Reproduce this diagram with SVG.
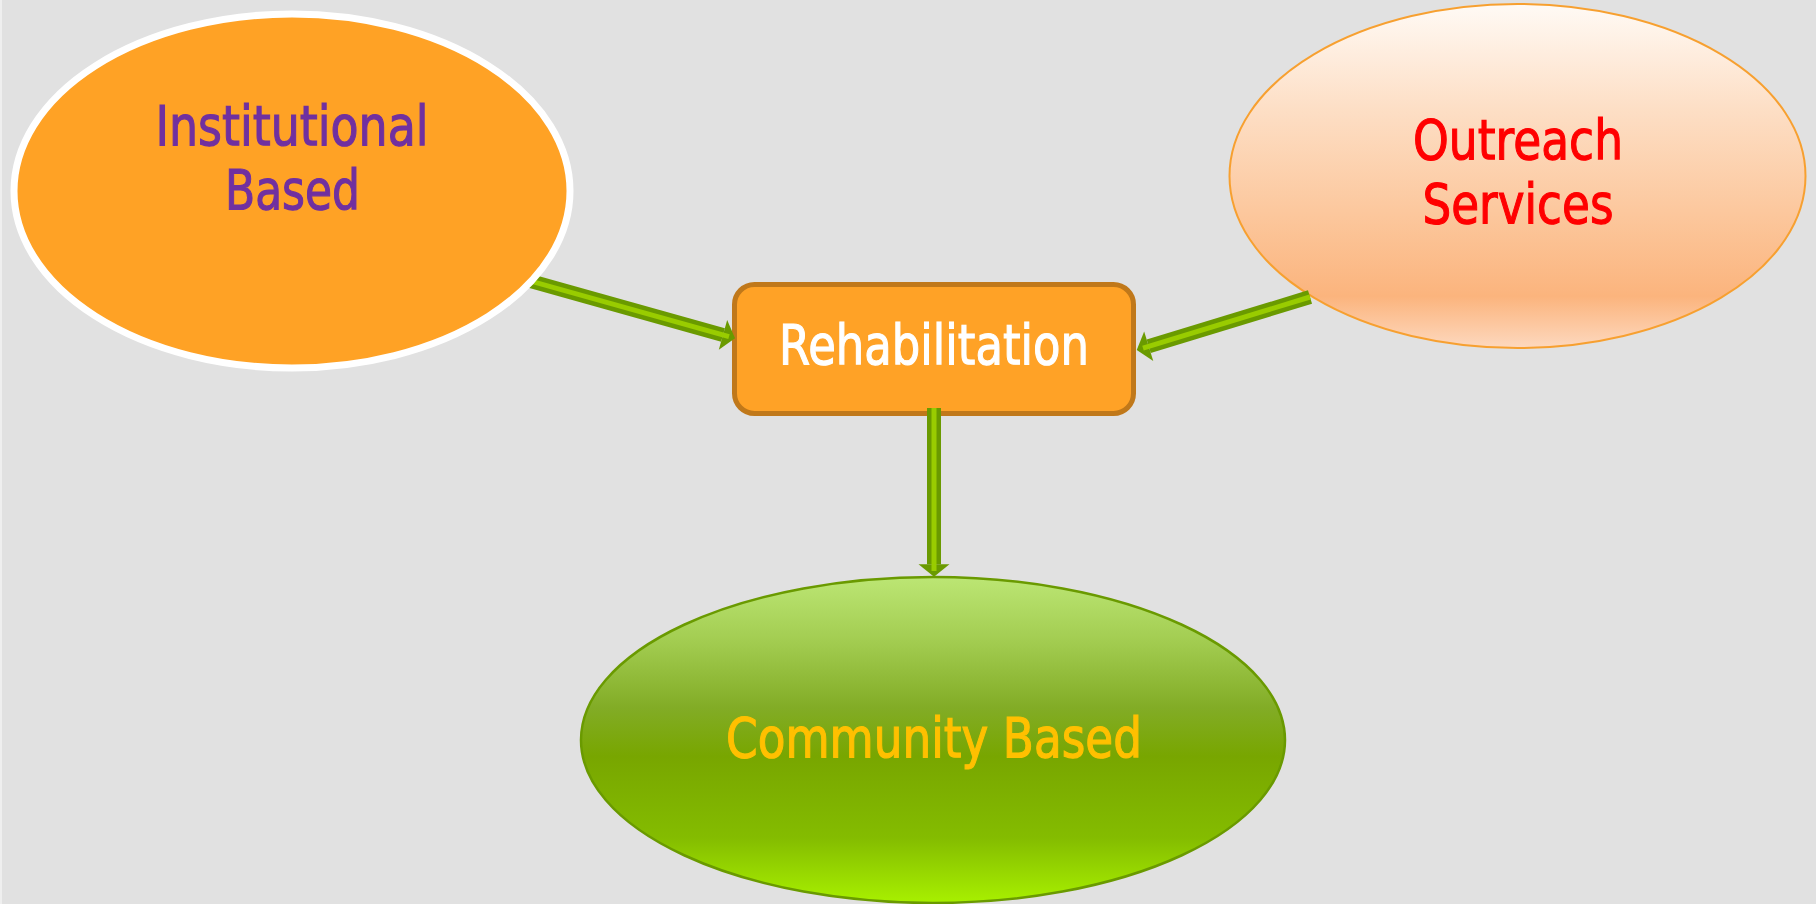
<svg xmlns="http://www.w3.org/2000/svg" width="1816" height="904" viewBox="0 0 1816 904">
  <defs>
    <linearGradient id="gOut" x1="0" y1="0" x2="0" y2="1">
      <stop offset="0" stop-color="#FFFAF5"/>
      <stop offset="0.3" stop-color="#FDDFC6"/>
      <stop offset="0.6" stop-color="#FCC89E"/>
      <stop offset="0.85" stop-color="#FBB47D"/>
      <stop offset="1" stop-color="#FDD8BE"/>
    </linearGradient>
    <linearGradient id="gCom" x1="0" y1="0" x2="0" y2="1">
      <stop offset="0" stop-color="#BCE674"/>
      <stop offset="0.2" stop-color="#A2CC50"/>
      <stop offset="0.4" stop-color="#82AC26"/>
      <stop offset="0.55" stop-color="#78A600"/>
      <stop offset="0.8" stop-color="#84BC00"/>
      <stop offset="1" stop-color="#A8F000"/>
    </linearGradient>
    <marker id="head" markerUnits="userSpaceOnUse" markerWidth="20" markerHeight="40" refX="0" refY="16" orient="auto" overflow="visible">
      <path d="M0,0.5 L12.5,16 L0,31.5 Z" fill="#6A9A00"/>
    </marker>
    <style>
      .bg { fill: #E1E1E1; }
      .lbl { font-family: "DejaVu Sans", "Liberation Sans", sans-serif; font-size: 55px; text-anchor: middle; stroke-width: 1.2px; }
      .outer { stroke: #6A9A00; stroke-width: 14; fill: none; marker-end: url(#head); }
      .inner { stroke: #99CC00; stroke-width: 5; fill: none; }
    </style>
  </defs>
  <rect class="bg" x="0" y="0" width="1816" height="904"/>
  <rect x="0" y="0" width="2" height="904" fill="#EFEFEF"/>

  <g id="node-rehabilitation">
    <rect x="734.5" y="284.5" width="399" height="129" rx="20" ry="20" fill="#FFA226" stroke="#C0781A" stroke-width="5"/>
    <text class="lbl" x="934" y="364" font-size="53" fill="#FFFFFF" stroke="#FFFFFF" textLength="310" lengthAdjust="spacingAndGlyphs">Rehabilitation</text>
  </g>

  <g id="node-outreach">
    <ellipse cx="1517.5" cy="176" rx="288" ry="172" fill="url(#gOut)" stroke="#F7A030" stroke-width="2"/>
    <text class="lbl" x="1518" y="159" fill="#FF0000" stroke="#FF0000" textLength="210" lengthAdjust="spacingAndGlyphs">Outreach</text>
    <text class="lbl" x="1518" y="223" fill="#FF0000" stroke="#FF0000" textLength="191" lengthAdjust="spacingAndGlyphs">Services</text>
  </g>

  <g id="node-community">
    <ellipse cx="933" cy="740" rx="352" ry="163" fill="url(#gCom)" stroke="#6A9A00" stroke-width="2.5"/>
    <text class="lbl" x="934" y="757" fill="#FFC000" stroke="#FFC000" textLength="416" lengthAdjust="spacingAndGlyphs">Community Based</text>
  </g>

  <g id="connectors">
    <line class="outer" x1="480" y1="266.9" x2="723" y2="334.9"/>
    <line class="inner" x1="480" y1="266.9" x2="729" y2="336.6"/>
    <line class="outer" x1="1310" y1="297" x2="1148.7" y2="346.3"/>
    <line class="inner" x1="1310" y1="297" x2="1143" y2="348.1"/>
    <line class="outer" x1="934" y1="408" x2="934" y2="564.3"/>
    <line class="inner" x1="934" y1="408" x2="934" y2="571"/>
  </g>

  <g id="node-institutional">
    <ellipse cx="292" cy="191" rx="278" ry="177" fill="#FFA225" stroke="#FFFFFF" stroke-width="7"/>
    <text class="lbl" x="292" y="145" fill="#7030A0" stroke="#7030A0" textLength="273" lengthAdjust="spacingAndGlyphs">Institutional</text>
    <text class="lbl" x="292.5" y="209" fill="#7030A0" stroke="#7030A0" textLength="135" lengthAdjust="spacingAndGlyphs">Based</text>
  </g>
</svg>
